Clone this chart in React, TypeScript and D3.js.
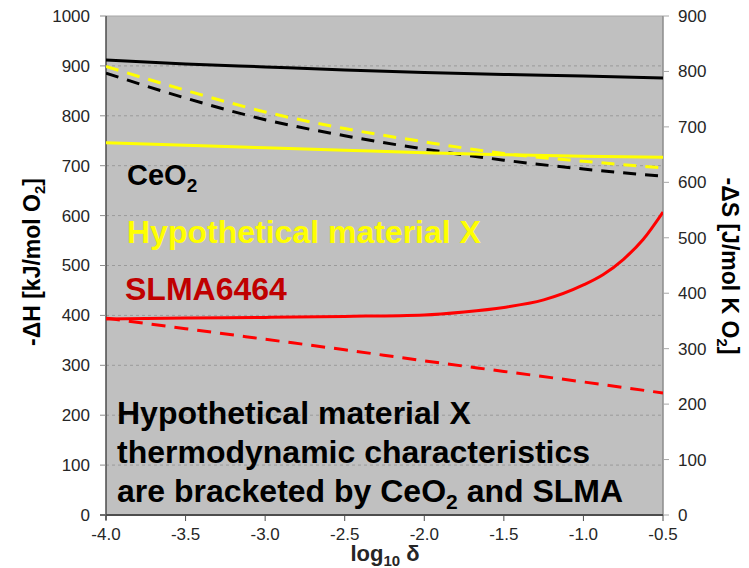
import React from "react";
import * as d3 from "d3";

// log10 δ sample points
const logDelta = [-4.0, -3.5, -3.0, -2.5, -2.0, -1.5, -1.0, -0.5];
const logDeltaFine = [-4.0, -3.5, -3.0, -2.5, -2.0, -1.75, -1.5, -1.25, -1.0, -0.875, -0.75, -0.625, -0.5];

// -ΔH [kJ/mol O2] (left axis)
const ceo2H = [912, 904, 898, 892, 887, 883, 880, 876];
const matXH = [746, 741, 736, 731, 726, 722, 719, 717];
const slmaH = [393, 395, 396, 398, 401, 407, 416, 431, 461, 482, 512, 552, 607];

// -ΔS [J/mol K O2] (right axis)
const ceo2S = [797, 752, 713, 684, 660, 640, 624, 611];
const matXS = [809, 766, 727, 697, 673, 652, 638, 626];
const slmaS = [355, 336, 317, 298, 278, 259, 240, 220];

const xTicks = [-4.0, -3.5, -3.0, -2.5, -2.0, -1.5, -1.0, -0.5];
const leftTicks = [0, 100, 200, 300, 400, 500, 600, 700, 800, 900, 1000];
const rightTicks = [0, 100, 200, 300, 400, 500, 600, 700, 800, 900];

const W = 749;
const H = 568;
const left = 106;
const right = 663;
const top = 16;
const bottom = 515;

const FONT = "'Liberation Sans', Arial, Helvetica, sans-serif";

export default function App() {
  const x = d3.scaleLinear().domain([-4, -0.5]).range([left, right]);
  const yL = d3.scaleLinear().domain([0, 1000]).range([bottom, top]);
  const yR = d3.scaleLinear().domain([0, 900]).range([bottom, top]);

  const lineOn = (xs: number[], ys: number[], y: d3.ScaleLinear<number, number>) =>
    d3
      .line<number>()
      .x((_, i) => x(xs[i]))
      .y((v) => y(v))
      .curve(d3.curveMonotoneX)(ys) || "";

  const series = [
    { d: lineOn(logDelta, ceo2S, yR), color: "#000000", dash: "13,9" },
    { d: lineOn(logDelta, matXS, yR), color: "#ffff00", dash: "13,9" },
    { d: lineOn(logDelta, slmaS, yR), color: "#ff0000", dash: "14,9" },
    { d: lineOn(logDelta, ceo2H, yL), color: "#000000", dash: undefined },
    { d: lineOn(logDelta, matXH, yL), color: "#ffff00", dash: undefined },
    { d: lineOn(logDeltaFine, slmaH, yL), color: "#ff0000", dash: undefined },
  ];

  const tickFill = "#262626";

  return (
    <svg
      width={W}
      height={H}
      style={{ position: "absolute", left: 0, top: 0, background: "#ffffff" }}
      fontFamily={FONT}
    >
      <defs>
        <clipPath id="plotClip">
          <rect x={left} y={top} width={right - left} height={bottom - top} />
        </clipPath>
      </defs>

      {/* plot background */}
      <rect x={left} y={top} width={right - left} height={bottom - top} fill="#c0c0c0" />

      {/* horizontal grid */}
      {leftTicks
        .filter((t) => t > 0 && t < 1000)
        .map((t) => (
          <line
            key={"g" + t}
            x1={left}
            x2={right}
            y1={yL(t)}
            y2={yL(t)}
            stroke="#9a9a9a"
            strokeWidth={1}
            strokeDasharray="3,3"
          />
        ))}

      {/* frame */}
      <line x1={left} x2={right} y1={top} y2={top} stroke="#a6a6a6" strokeWidth={1} />
      <line x1={right} x2={right} y1={top} y2={bottom} stroke="#8c8c8c" strokeWidth={1.5} />
      <line x1={left} x2={left} y1={top} y2={bottom + 5} stroke="#4d4d4d" strokeWidth={1.5} />
      <line x1={left - 6} x2={right} y1={bottom} y2={bottom} stroke="#4d4d4d" strokeWidth={2} />

      {/* curves */}
      <g clipPath="url(#plotClip)">
        {series.map((s, i) => (
          <path
            key={i}
            d={s.d}
            fill="none"
            stroke={s.color}
            strokeWidth={3}
            strokeDasharray={s.dash}
          />
        ))}
      </g>

      {/* left axis */}
      {leftTicks.map((t) => (
        <g key={"l" + t}>
          <line x1={left - 6} x2={left} y1={yL(t)} y2={yL(t)} stroke="#8c8c8c" strokeWidth={1} />
          <text x={90} y={yL(t)} dy="0.35em" textAnchor="end" fontSize={17} fill={tickFill}>
            {t}
          </text>
        </g>
      ))}

      {/* right axis */}
      {rightTicks.map((t) => (
        <g key={"r" + t}>
          <line x1={right} x2={right + 6} y1={yR(t)} y2={yR(t)} stroke="#a6a6a6" strokeWidth={1} />
          <text x={678} y={yR(t)} dy="0.35em" textAnchor="start" fontSize={17} fill={tickFill}>
            {t}
          </text>
        </g>
      ))}

      {/* bottom axis */}
      {xTicks.map((t) => (
        <g key={"x" + t}>
          <line x1={x(t)} x2={x(t)} y1={bottom} y2={bottom + 6} stroke="#4d4d4d" strokeWidth={1} />
          <text x={x(t)} y={540} textAnchor="middle" fontSize={17} fill={tickFill}>
            {t.toFixed(1)}
          </text>
        </g>
      ))}

      {/* axis titles */}
      <text x={385} y={561} textAnchor="middle" fontSize={22} fontWeight="bold" fill="#262626">
        log<tspan fontSize={15} dy={5}>10</tspan>
        <tspan dy={-5}> δ</tspan>
      </text>
      <text
        transform="translate(40,262) rotate(-90)"
        textAnchor="middle"
        fontSize={23}
        fontWeight="bold"
        fill="#000000"
      >
        -ΔH [kJ/mol O<tspan fontSize={15} dy={5}>2</tspan>
        <tspan dy={-5}>]</tspan>
      </text>
      <text
        transform="translate(722,266) rotate(90)"
        textAnchor="middle"
        fontSize={23}
        fontWeight="bold"
        fill="#000000"
      >
        -ΔS [J/mol K O<tspan fontSize={15} dy={5}>2</tspan>
        <tspan dy={-5}>]</tspan>
      </text>

      {/* series labels */}
      <text x={127} y={185} fontSize={29} fontWeight="bold" fill="#000000">
        CeO<tspan fontSize={19} dy={7}>2</tspan>
      </text>
      <text x={127} y={243} fontSize={32} fontWeight="bold" fill="#ffff00">
        Hypothetical material X
      </text>
      <text x={125} y={300} fontSize={32} fontWeight="bold" fill="#c00000">
        SLMA6464
      </text>

      {/* summary note */}
      <g fontSize={32} fontWeight="bold" fill="#000000">
        <text x={117} y={424}>Hypothetical material X</text>
        <text x={117} y={463}>thermodynamic characteristics</text>
        <text x={117} y={502}>
          are bracketed by CeO<tspan fontSize={21} dy={7}>2</tspan>
          <tspan dy={-7}> and SLMA</tspan>
        </text>
      </g>
    </svg>
  );
}
